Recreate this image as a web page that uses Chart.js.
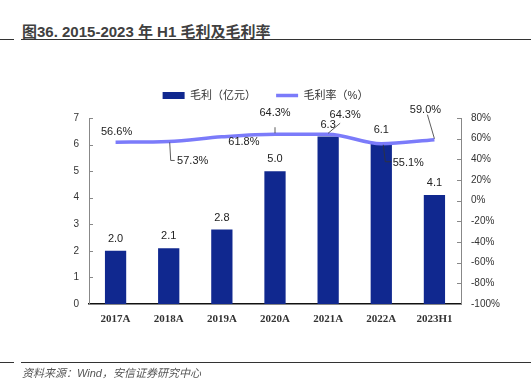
<!DOCTYPE html>
<html>
<head>
<meta charset="utf-8">
<script src="https://cdn.jsdelivr.net/npm/chart.js@4/dist/chart.umd.min.js"></script>
<style>
  body { margin: 0; width: 531px; height: 381px; background: #fff; position: relative; overflow: hidden; font-family: "Liberation Sans", "Noto Sans CJK SC", sans-serif; }
  #title { position: absolute; left: 22px; top: 20px; font-size: 15px; font-weight: bold; color: #404040; white-space: nowrap; }
  .rule { position: absolute; height: 0; border-top: 1.5px solid #333; }
  #source { position: absolute; left: 22px; top: 364px; font-size: 11px; font-style: italic; color: #555; white-space: nowrap; }
  #wrap { position: absolute; left: 0; top: 0; width: 531px; height: 381px; }
</style>
</head>
<body>
<div id="title">图36. 2015-2023 年 H1 毛利及毛利率</div>
<div class="rule" style="left:0;width:14px;top:39px"></div>
<div class="rule" style="left:21px;width:510px;top:39px"></div>
<div id="wrap"><canvas id="myChart" width="531" height="381"></canvas></div>
<div class="rule" style="left:0;width:14px;top:362px"></div>
<div class="rule" style="left:21px;width:510px;top:362px"></div>
<div id="source">资料来源：Wind，安信证券研究中心</div>
<script>
var years = ['2017A', '2018A', '2019A', '2020A', '2021A', '2022A', '2023H1'];
var grossProfit = [2.0, 2.1, 2.8, 5.0, 6.3, 6.1, 4.1];      // 毛利（亿元）
var grossMargin = [56.6, 57.3, 61.8, 64.3, 64.3, 55.1, 59.0]; // 毛利率（%）
var leftTicks = [0, 7, 1];
var rightTicks = [-100, 80, 20];

var FONT = '"Liberation Sans", "Noto Sans CJK SC", sans-serif';

// label offsets + leader lines for the margin line, relative to each point
var marginLabelPos = [
    { dx: 1, dy: -10, lead: null },
    { dx: 24, dy: 20, lead: [[1, 1], [2, 19], [6, 19]] },
    { dx: 22, dy: 5, lead: null },
    { dx: 0, dy: -21, lead: [[0, -7], [0, -1]] },
    { dx: 17, dy: -19, lead: [[12, -11], [0, -1]] },
    { dx: 27, dy: 19, lead: [[2, 1], [4, 18], [10, 18]] },
    { dx: -9, dy: -30, lead: [[-7, -25], [0, -1]] }
];

var labelPlugin = {
    id: 'labels',
    afterInit: function (chart) {
        // a bit more room between legend and plot
        var fit = chart.legend.fit;
        chart.legend.fit = function () { fit.call(this); this.height += 7; };
    },
    afterDatasetsDraw: function (chart) {
        var ctx = chart.ctx;
        ctx.save();
        ctx.font = '11px ' + FONT;
        ctx.fillStyle = '#222';
        ctx.textAlign = 'center';
        ctx.textBaseline = 'middle';
        // bar values
        chart.getDatasetMeta(0).data.forEach(function (el, i) {
            ctx.fillText(grossProfit[i].toFixed(1), el.x, el.y - 12);
        });
        // margin values
        chart.getDatasetMeta(1).data.forEach(function (el, i) {
            var p = marginLabelPos[i];
            if (p.lead) {
                ctx.strokeStyle = '#333';
                ctx.lineWidth = 0.8;
                ctx.beginPath();
                p.lead.forEach(function (q, k) {
                    if (k == 0) ctx.moveTo(el.x + q[0], el.y + q[1]);
                    else ctx.lineTo(el.x + q[0], el.y + q[1]);
                });
                ctx.stroke();
            }
            ctx.fillText(grossMargin[i].toFixed(1) + '%', el.x + p.dx, el.y + p.dy);
        });
        // small inward tick marks on both y axes
        ctx.strokeStyle = '#888';
        ctx.lineWidth = 1;
        var yl = chart.scales.y, yr = chart.scales.y1;
        yl.ticks.forEach(function (t) {
            var py = Math.round(yl.getPixelForValue(t.value)) + 0.5;
            ctx.beginPath(); ctx.moveTo(yl.right, py); ctx.lineTo(yl.right + 4, py); ctx.stroke();
        });
        yr.ticks.forEach(function (t) {
            var py = Math.round(yr.getPixelForValue(t.value)) + 0.5;
            ctx.beginPath(); ctx.moveTo(yr.left - 4, py); ctx.lineTo(yr.left, py); ctx.stroke();
        });
        ctx.restore();
    }
};

const ctx = document.getElementById('myChart');
new Chart(ctx, {
    data: {
        labels: years,
        datasets: [
            {
                type: 'bar',
                label: '毛利（亿元）',
                data: grossProfit,
                backgroundColor: '#10288f',
                barPercentage: 0.8,
                categoryPercentage: 0.5,
                yAxisID: 'y',
                pointStyle: 'rect',
                order: 2
            },
            {
                type: 'line',
                label: '毛利率（%）',
                data: grossMargin,
                borderColor: '#7b7bfa',
                backgroundColor: '#7b7bfa',
                borderWidth: 3.5,
                pointRadius: 0,
                pointStyle: 'line',
                tension: 0.4,
                cubicInterpolationMode: 'monotone',
                yAxisID: 'y1',
                order: 1
            }
        ]
    },
    options: {
        responsive: false,
        animation: false,
        devicePixelRatio: 1,
        layout: { padding: { top: 70, left: 0, right: 0, bottom: 0 } },
        plugins: {
            legend: {
                position: 'top',
                labels: {
                    usePointStyle: true,
                    pointStyleWidth: 22,
                    boxHeight: 7,
                    padding: 20,
                    color: '#333',
                    font: { size: 11, family: FONT },
                    sort: function (a, b) { return a.datasetIndex - b.datasetIndex; }
                }
            },
            tooltip: { enabled: false }
        },
        scales: {
            x: {
                grid: { display: false, drawTicks: false },
                border: { color: '#111', width: 1.5 },
                ticks: { color: '#333', padding: 9, font: { size: 11, family: '"Liberation Serif", serif', weight: 'bold' } },
                afterFit: function (s) { s.height = 77; }
            },
            y: {
                position: 'left',
                min: leftTicks[0], max: leftTicks[1],
                grid: { display: false, drawTicks: false },
                border: { color: '#888', width: 1 },
                ticks: { stepSize: leftTicks[2], color: '#333', padding: 10, font: { size: 10, family: FONT } },
                afterFit: function (s) { s.width = 89; }
            },
            y1: {
                position: 'right',
                min: rightTicks[0], max: rightTicks[1],
                grid: { display: false, drawTicks: false },
                border: { color: '#888', width: 1 },
                ticks: {
                    stepSize: rightTicks[2], color: '#333', padding: 10, font: { size: 10, family: FONT },
                    callback: function (v) { return v + '%'; }
                },
                afterFit: function (s) { s.width = 70; }
            }
        }
    },
    plugins: [labelPlugin]
});
</script>
</body>
</html>
